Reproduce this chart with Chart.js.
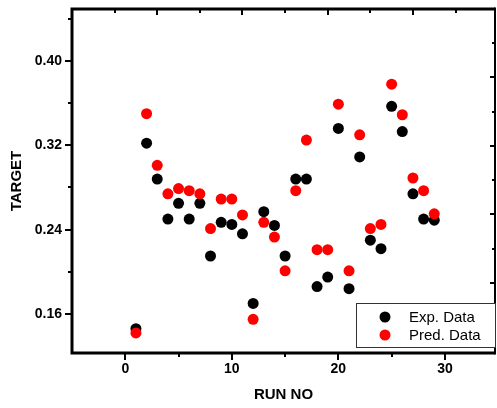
<!DOCTYPE html>
<html>
<head>
<meta charset="utf-8">
<script src="https://cdn.jsdelivr.net/npm/chart.js@4.4.1/dist/chart.umd.min.js"></script>
<style>
  html, body { margin: 0; padding: 0; background: #fff; }
  #wrap { width: 497px; height: 408px; }
</style>
</head>
<body>
<div id="wrap"><canvas id="chart"></canvas></div>
<script>
// === Data ===
const runNo = [1, 2, 3, 4, 5, 6, 7, 8, 9, 10, 11, 12, 13, 14, 15, 16, 17, 18, 19, 20, 21, 22, 23, 24, 25, 26, 27, 28, 29];
const expData = [0.146, 0.322, 0.288, 0.250, 0.265, 0.250, 0.265, 0.215, 0.247, 0.245, 0.236, 0.170,
  0.257, 0.244, 0.215, 0.288, 0.288, 0.186, 0.195, 0.336, 0.184, 0.309, 0.230, 0.222, 0.357, 0.333, 0.274, 0.250, 0.249];
const predData = [0.142, 0.350, 0.301, 0.274, 0.279, 0.277, 0.274, 0.241, 0.269, 0.269, 0.254, 0.155,
  0.247, 0.233, 0.201, 0.277, 0.325, 0.221, 0.221, 0.359, 0.201, 0.330, 0.241, 0.245, 0.378, 0.349, 0.289, 0.277, 0.255];

const xTicks = [0, 10, 20, 30];
const xMinorTicks = [5, 15, 25];
const yTicks = [0.16, 0.24, 0.32, 0.40];
const yMinorTicks = [0.20, 0.28, 0.36, 0.44];
// ticks on the mirror (top / right) axes
const topTicksMajor = [3, 11, 19, 27];
const topTicksMinor = [-1, 7, 15, 23, 31];
const rightTicksMajor = [0.3848, 0.3194, 0.2548, 0.1894];
const rightTicksMinor = [0.417, 0.3516, 0.287, 0.2216, 0.157];

const seriesNames = ["Exp. Data", "Pred. Data"];
const seriesColors = ["#000000", "#ff0000"];

Chart.defaults.font.family = "'Liberation Sans', Arial, sans-serif";
Chart.defaults.color = "#000";

// === Frame, ticks and legend (Origin style) ===
const framePlugin = {
  id: "frame",
  afterDraw(chart) {
    const { ctx, chartArea: a, scales } = chart;
    const xs = scales.x, ys = scales.y;
    ctx.save();
    ctx.strokeStyle = "#000";
    ctx.lineCap = "butt";

    // ticks
    ctx.lineWidth = 2;
    const tick = (x1, y1, x2, y2) => {
      ctx.beginPath(); ctx.moveTo(x1, y1); ctx.lineTo(x2, y2); ctx.stroke();
    };
    yTicks.forEach(v => { const p = Math.round(ys.getPixelForValue(v)); tick(a.left - 7, p, a.left, p); });
    yMinorTicks.forEach(v => { const p = Math.round(ys.getPixelForValue(v)); tick(a.left - 4, p, a.left, p); });
    xTicks.forEach(v => { const p = Math.round(xs.getPixelForValue(v)); tick(p, a.bottom, p, a.bottom + 7); });
    xMinorTicks.forEach(v => { const p = Math.round(xs.getPixelForValue(v)); tick(p, a.bottom, p, a.bottom + 4); });
    topTicksMajor.forEach(v => { const p = Math.round(xs.getPixelForValue(v)); tick(p, a.top, p, a.top + 6); });
    topTicksMinor.forEach(v => { const p = Math.round(xs.getPixelForValue(v)); tick(p, a.top, p, a.top + 4); });
    rightTicksMajor.forEach(v => { const p = Math.round(ys.getPixelForValue(v)); tick(a.right - 5, p, a.right, p); });
    rightTicksMinor.forEach(v => { const p = Math.round(ys.getPixelForValue(v)); tick(a.right - 3, p, a.right, p); });

    // frame
    ctx.lineWidth = 3;
    ctx.beginPath();
    ctx.moveTo(a.right, a.top);
    ctx.lineTo(a.left, a.top);
    ctx.lineTo(a.left, a.bottom);
    ctx.lineTo(a.right, a.bottom);
    ctx.stroke();
    ctx.lineWidth = 2;
    tick(a.right, a.top - 1.5, a.right, a.bottom + 1.5);

    // legend
    const lw = 139, lh = 44;
    const lx = a.right - lw, ly = a.bottom - 6 - lh;
    ctx.fillStyle = "#fff";
    ctx.fillRect(lx, ly, lw, lh);
    ctx.lineWidth = 1;
    ctx.strokeStyle = "#333";
    ctx.strokeRect(lx + 0.5, ly + 0.5, lw, lh);
    ctx.font = "15px 'Liberation Sans', Arial, sans-serif";
    ctx.textBaseline = "middle";
    ctx.textAlign = "left";
    seriesNames.forEach((name, i) => {
      const cy = ly + 14 + i * 18;
      ctx.fillStyle = seriesColors[i];
      ctx.beginPath(); ctx.arc(lx + 29, cy, 5.5, 0, Math.PI * 2); ctx.fill();
      ctx.fillStyle = "#000";
      ctx.fillText(name, lx + 53, cy + 1);
    });
    ctx.restore();
  }
};

const ctx = document.getElementById("chart");
new Chart(ctx, {
  type: "scatter",
  data: {
    datasets: [
      {
        label: seriesNames[0],
        data: runNo.map((r, i) => ({ x: r, y: expData[i] })),
        backgroundColor: seriesColors[0],
        borderWidth: 0,
        pointRadius: 5.5,
        order: 1
      },
      {
        label: seriesNames[1],
        data: runNo.map((r, i) => ({ x: r, y: predData[i] })),
        backgroundColor: seriesColors[1],
        borderWidth: 0,
        pointRadius: 5.5,
        order: 0
      }
    ]
  },
  options: {
    responsive: true,
    maintainAspectRatio: false,
    animation: false,
    events: [],
    layout: { autoPadding: false, padding: { left: 0, right: 2, top: 9, bottom: 0 } },
    plugins: { legend: { display: false }, tooltip: { enabled: false } },
    scales: {
      x: {
        type: "linear",
        min: -5,
        max: 34.7,
        afterBuildTicks: s => { s.ticks = xTicks.map(v => ({ value: v })); },
        afterFit: s => { s.height = 55; s.paddingLeft = 0; s.paddingRight = 0; },
        grid: { display: false, drawTicks: false },
        border: { display: false },
        ticks: {
          padding: 8,
          font: { size: 14, weight: "bold" },
          callback: v => String(v)
        },
        title: {
          display: true,
          text: "RUN NO",
          font: { size: 15, weight: "bold" },
          padding: { top: 0, bottom: 4 }
        }
      },
      y: {
        type: "linear",
        min: 0.123,
        max: 0.4493,
        afterBuildTicks: s => { s.ticks = yTicks.map(v => ({ value: v })); },
        afterFit: s => { s.width = 72; s.paddingTop = 0; s.paddingBottom = 0; },
        grid: { display: false, drawTicks: false },
        border: { display: false },
        ticks: {
          padding: 10,
          font: { size: 14, weight: "bold" },
          callback: v => v.toFixed(2)
        },
        title: {
          display: true,
          text: "TARGET",
          font: { size: 15, weight: "bold" },
          padding: { top: 8, bottom: 0 }
        }
      }
    }
  },
  plugins: [framePlugin]
});
</script>
</body>
</html>
